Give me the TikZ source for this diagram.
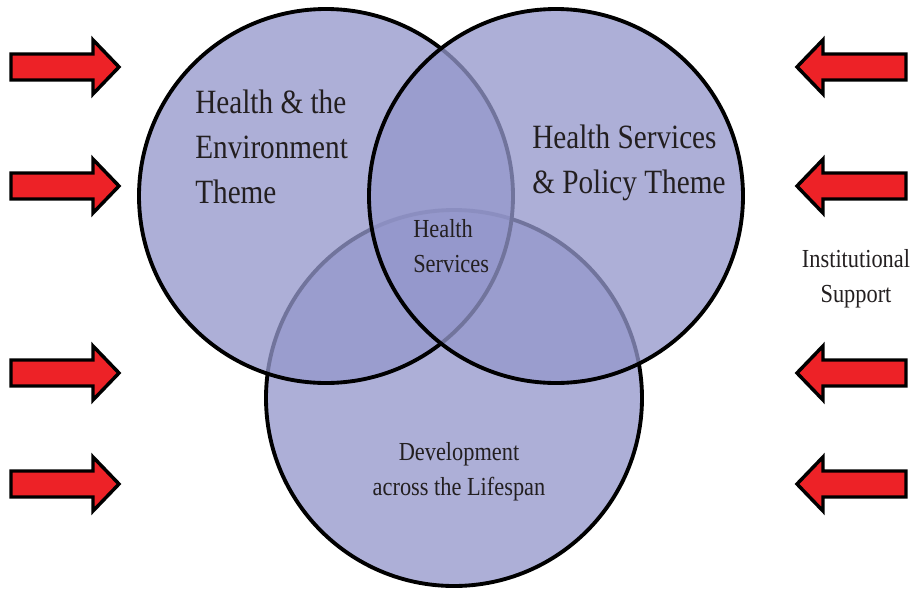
\documentclass[tikz,border=0pt]{standalone}
\usepackage{fontspec}
\setmainfont{Liberation Serif}[FakeStretch=0.86]
\definecolor{circfill}{RGB}{148,151,203}
\definecolor{arrred}{RGB}{237,34,39}
\definecolor{txt}{RGB}{35,31,32}
\begin{document}
\begin{tikzpicture}[x=0.75pt,y=-0.75pt,
  circ/.style={draw=black, line width=2.9pt, fill=circfill, fill opacity=0.77},
  arrowshape/.style={draw=black, fill=arrred, line width=2.6pt, line join=miter},
  bigtext/.style={text=txt, font=\fontsize{25.5}{33.75}\selectfont, inner sep=0pt},
  smalltext/.style={text=txt, font=\fontsize{19.5}{26.25}\selectfont, inner sep=0pt}]
\useasboundingbox (0,0) rectangle (918,590);
% circles (bottom first, then left, then right)
\draw[circ] (454,398) circle[radius=188];
\draw[circ] (326,196) circle[radius=187];
\draw[circ] (556,196) circle[radius=187];
% arrows on the left, pointing right
\foreach \c in {67,186,373,484}{
  \draw[arrowshape] (11,\c-13) -- (93,\c-13) -- (93,\c-27) -- (119,\c)
    -- (93,\c+27) -- (93,\c+13) -- (11,\c+13) -- cycle;
}
% arrows on the right, pointing left
\foreach \c in {67,186,373,484}{
  \draw[arrowshape] (906,\c-13) -- (823,\c-13) -- (823,\c-27) -- (797,\c)
    -- (823,\c+27) -- (823,\c+13) -- (906,\c+13) -- cycle;
}
% labels (base anchor = baseline of the last line)
\node[bigtext, align=left, anchor=base west] (env) at (195,203) {Health \& the\\Environment\\Theme};
\node[bigtext, align=left, anchor=base west] (hsp) at (532,193) {Health Services\\\& Policy Theme};
\node[smalltext, align=left, anchor=base west] (hs) at (413,272) {Health\\Services};
\node[smalltext, align=center, anchor=base] (dev) at (459,495) {Development\\across the Lifespan};
\node[smalltext, align=center, anchor=base] (inst) at (856,302) {Institutional\\Support};
\end{tikzpicture}
\end{document}
